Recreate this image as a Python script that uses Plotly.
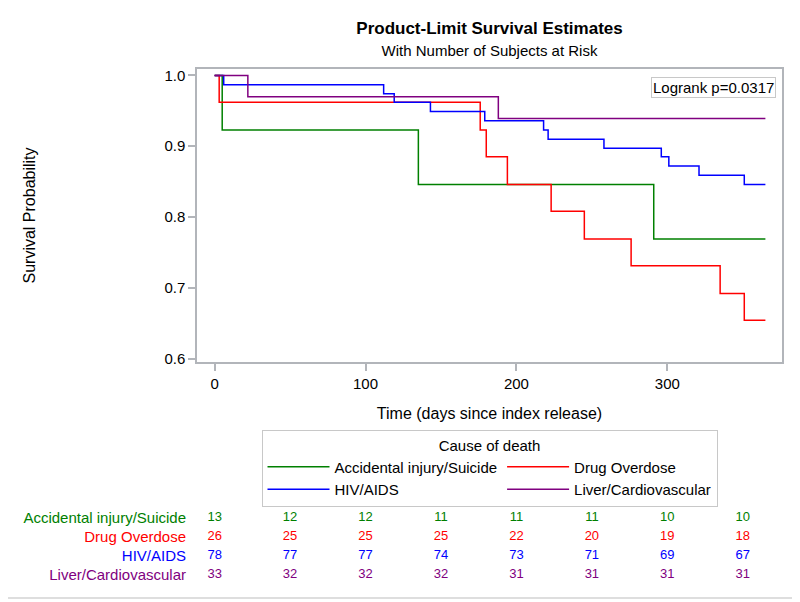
import plotly.graph_objects as go

# ---- data ----
groups = ["Accidental injury/Suicide", "Drug Overdose", "HIV/AIDS", "Liver/Cardiovascular"]
colors = ["#008000", "#FF0000", "#0000FF", "#800080"]

acc_time = [0, 5, 135, 291, 365]
acc_surv = [1.0, 0.923, 0.846, 0.769, 0.769]

drug_time = [0, 3, 176, 180, 194, 223, 245, 276, 335, 351, 365]
drug_surv = [1.0, 0.962, 0.923, 0.885, 0.846, 0.808, 0.769, 0.731, 0.692, 0.654, 0.654]

hiv_time = [0, 6, 112, 119, 143, 179, 218, 221, 258, 296, 301, 321, 351, 365]
hiv_surv = [1.0, 0.987, 0.974, 0.962, 0.949, 0.936, 0.923, 0.910, 0.897, 0.885, 0.872, 0.859, 0.846, 0.846]

liver_time = [0, 22, 188, 365]
liver_surv = [1.0, 0.970, 0.939, 0.939]

risk_times = [0, 50, 100, 150, 200, 250, 300, 350]
acc_risk = [13, 12, 12, 11, 11, 11, 10, 10]
drug_risk = [26, 25, 25, 25, 22, 20, 19, 18]
hiv_risk = [78, 77, 77, 74, 73, 71, 69, 67]
liver_risk = [33, 32, 32, 32, 31, 31, 31, 31]

x_ticks = [0, 100, 200, 300]
y_ticks = [0.6, 0.7, 0.8, 0.9, 1.0]

title = "Product-Limit Survival Estimates"
subtitle = "With Number of Subjects at Risk"
x_title = "Time (days since index release)"
y_title = "Survival Probability"
legend_title = "Cause of death"
logrank_text = "Logrank p=0.0317"

# ---- figure ----
# the page body adds an 8px offset, so the figure is 8px smaller on each axis
W, H = 792, 594
FONT = "Liberation Sans, Arial, sans-serif"
AXCOL = "#b2b5ba"
fig = go.Figure()

curves = [(acc_time, acc_surv), (drug_time, drug_surv), (hiv_time, hiv_surv), (liver_time, liver_surv)]
for name, col, (t, s) in zip(groups, colors, curves):
    fig.add_trace(go.Scatter(x=t, y=s, mode="lines", name=name,
                             line=dict(color=col, width=1.5, shape="hv"),
                             xaxis="x", yaxis="y", hoverinfo="skip"))

risks = [acc_risk, drug_risk, hiv_risk, liver_risk]
for i, (name, col, r) in enumerate(zip(groups, colors, risks)):
    fig.add_trace(go.Scatter(x=risk_times, y=[i] * len(risk_times), mode="text",
                             text=[str(v) for v in r], textposition="middle center",
                             textfont=dict(color=col, size=13, family=FONT),
                             showlegend=False, xaxis="x", yaxis="y2", hoverinfo="skip"))

fig.update_layout(
    width=W, height=H,
    margin=dict(l=189, r=18, t=61, b=15, autoexpand=False),
    paper_bgcolor="white", plot_bgcolor="white",
    font=dict(family=FONT, size=15, color="black"),
    title=dict(text="<b>" + title + "</b><br><span style='font-size:15px;font-weight:normal'>" + subtitle + "</span>",
               x=0.5, xref="paper", xanchor="center",
               y=1 - 25.5 / H, yref="container", yanchor="middle",
               font=dict(size=17, family=FONT, color="black")),
    xaxis=dict(range=[-11.7, 376], tickvals=x_ticks, ticks="outside", ticklen=7,
               tickcolor=AXCOL, tickwidth=1.5, showline=True, linecolor=AXCOL, linewidth=1.5,
               mirror=True, showgrid=False, zeroline=False, anchor="y", automargin=False,
               tickfont=dict(size=15),
               title=dict(text=x_title, standoff=17, font=dict(size=16))),
    yaxis=dict(domain=[0.4344, 1.0], range=[0.5952, 1.0091], tickvals=y_ticks, tickformat=".1f",
               ticks="outside", ticklen=7, tickcolor=AXCOL, tickwidth=1.5, showline=True,
               linecolor=AXCOL, linewidth=1.5, mirror=True, showgrid=False, zeroline=False,
               anchor="x", automargin=False, tickfont=dict(size=15),
               title=dict(text=y_title, standoff=125, font=dict(size=16))),
    yaxis2=dict(domain=[0.0, 0.1525], range=[3.632, -0.526], anchor="x",
                tickvals=[0, 1, 2, 3],
                ticktext=['<span style="color:%s">%s</span>' % (c, g) for g, c in zip(groups, colors)],
                ticks="outside", ticklen=7, tickcolor="rgba(0,0,0,0)", automargin=False,
                showline=False, showgrid=False, zeroline=False, tickfont=dict(size=15)),
    legend=dict(orientation="h", x=0.5, xanchor="center", y=(587 - 430) / 518, yanchor="top",
                itemwidth=62,
                bordercolor="#c8c8c8", borderwidth=1, bgcolor="white",
                font=dict(size=15), tracegroupgap=0,
                title=dict(text=legend_title, side="top center", font=dict(size=15))),
    showlegend=True,
)

fig.add_annotation(text=logrank_text, xref="paper", yref="paper",
                   x=(776 - 197) / 585, y=(587 - 76.7) / 518, xanchor="right", yanchor="top",
                   showarrow=False, bordercolor="#c8c8c8", borderwidth=1, borderpad=1,
                   bgcolor="white", font=dict(size=15))

fig.add_shape(type="rect", xref="paper", yref="paper",
              x0=(4 - 197) / 585, x1=(795 - 197) / 585, y0=(587 - 598) / 518, y1=(587 - 5) / 518,
              line=dict(color="#d4d4d4", width=1.5), fillcolor="rgba(0,0,0,0)", layer="below")

fig.write_html("out.html")
